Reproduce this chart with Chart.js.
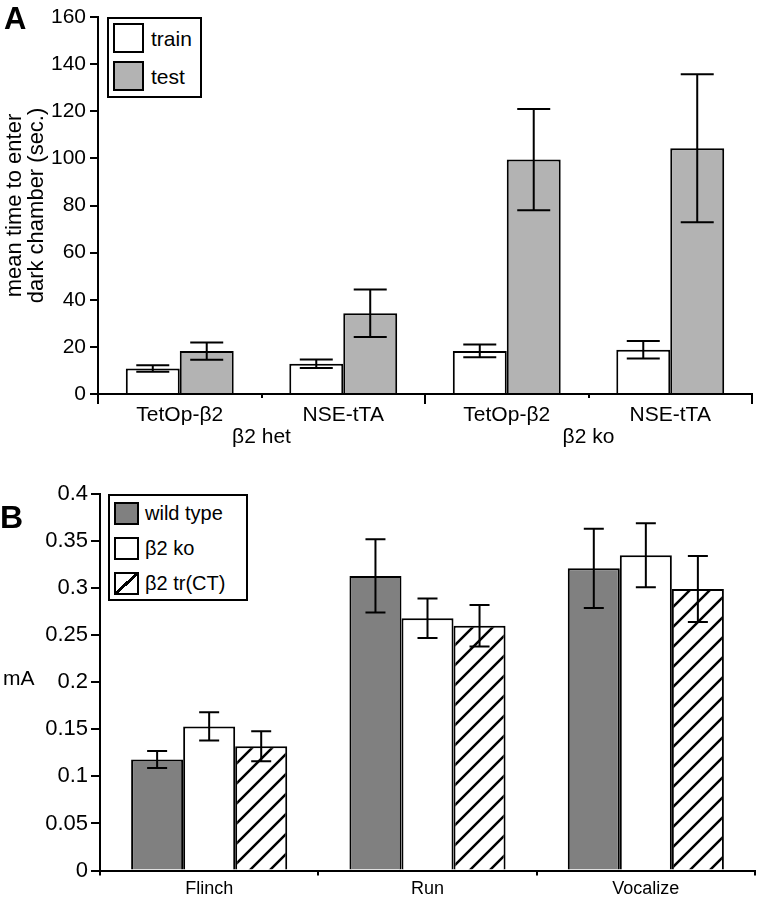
<!DOCTYPE html>
<html lang="en">

<head>
  <meta charset="UTF-8" />
  <title>Passive avoidance and shock sensitivity</title>
  <script src="https://cdn.jsdelivr.net/npm/chart.js"></script>
  <style>
    body {
      margin: 0;
      background: #fff;
      font-family: 'Liberation Sans', Arial, sans-serif;
      color: #000;
    }

    #wrap {
      position: relative;
      width: 757px;
      height: 900px;
    }

    .abs {
      position: absolute;
    }

    .letter {
      position: absolute;
      font-weight: bold;
      line-height: 1;
    }

    .legend-box {
      position: absolute;
      border: 2px solid #000;
      box-sizing: border-box;
      background: #fff;
    }

    .swatch {
      position: absolute;
      border: 2px solid #000;
      box-sizing: border-box;
    }

    .legend-text {
      position: absolute;
      white-space: nowrap;
      line-height: 1;
    }
  </style>
</head>

<body>
  <div id="wrap">
    <canvas id="chartA" class="abs" style="left:0;top:0" width="757" height="460"></canvas>
    <canvas id="chartB" class="abs" style="left:0;top:460px" width="757" height="440"></canvas>

    <div class="letter" style="left:4px;top:3px;font-size:31px">A</div>
    <div class="letter" style="left:0;top:501px;font-size:32px">B</div>
    <div class="legend-text" style="left:3px;top:667px;font-size:21px">mA</div>

    <!-- legend A -->
    <div class="legend-box" style="left:107px;top:17px;width:95px;height:81px"></div>
    <div class="swatch" style="left:113px;top:23px;width:31px;height:30px;background:#fff"></div>
    <div class="legend-text" style="left:151px;top:28px;font-size:21px">train</div>
    <div class="swatch" style="left:113px;top:61px;width:31px;height:30px;background:#b3b3b3"></div>
    <div class="legend-text" style="left:151px;top:66px;font-size:21px">test</div>

    <!-- legend B -->
    <div class="legend-box" style="left:108px;top:494px;width:140px;height:107px"></div>
    <div class="swatch" style="left:114px;top:502px;width:25px;height:23px;background:#808080"></div>
    <div class="legend-text" style="left:145px;top:503px;font-size:20px">wild type</div>
    <div class="swatch" style="left:114px;top:537px;width:25px;height:23px;background:#fff"></div>
    <div class="legend-text" style="left:145px;top:538px;font-size:20px">β2 ko</div>
    <div class="swatch"
      style="left:114px;top:572px;width:25px;height:23px;background:linear-gradient(to bottom right,#fff calc(50% - 1.5px),#000 calc(50% - 1.5px),#000 calc(50% + 1.5px),#fff calc(50% + 1.5px))">
    </div>
    <div class="legend-text" style="left:145px;top:573px;font-size:20px">β2 tr(CT)</div>
  </div>

  <script>
    // panel A: time to enter dark chamber
    const lineLabels = ['TetOp-β2', 'NSE-tTA', 'TetOp-β2', 'NSE-tTA'];
    const genotypeLabels = ['β2 het', 'β2 ko'];
    const trainMean = [10.8, 12.8, 18.3, 18.8];
    const trainErr = [1.4, 1.8, 2.7, 3.7];
    const testMean = [18.2, 34.3, 99.5, 104.3];
    const testErr = [3.7, 10.1, 21.5, 31.4];
    const ticksA = [0, 160, 20];

    // panel B: shock threshold
    const behaviours = ['Flinch', 'Run', 'Vocalize'];
    const wildMean = [0.118, 0.313, 0.321];
    const wildErr = [0.009, 0.039, 0.042];
    const koMean = [0.153, 0.268, 0.335];
    const koErr = [0.015, 0.021, 0.034];
    const trMean = [0.132, 0.260, 0.299];
    const trErr = [0.016, 0.022, 0.035];
    const ticksB = [0, 0.4, 0.05];

    Chart.defaults.font.family = "'Liberation Sans', Arial, sans-serif";
    Chart.defaults.color = '#000';

    const errorBars = {
      id: 'errorBars',
      afterDatasetsDraw(chart, args, opts) {
        const ctx = chart.ctx;
        const y = chart.scales.y;
        const half = opts.capWidth / 2;
        ctx.save();
        ctx.strokeStyle = '#000';
        ctx.lineWidth = 2;
        chart.data.datasets.forEach((ds, i) => {
          chart.getDatasetMeta(i).data.forEach((bar, j) => {
            const top = y.getPixelForValue(ds.data[j] + ds.errors[j]);
            const bot = y.getPixelForValue(ds.data[j] - ds.errors[j]);
            ctx.beginPath();
            ctx.moveTo(bar.x, top);
            ctx.lineTo(bar.x, bot);
            ctx.moveTo(bar.x - half, top);
            ctx.lineTo(bar.x + half, top);
            ctx.moveTo(bar.x - half, bot);
            ctx.lineTo(bar.x + half, bot);
            ctx.stroke();
          });
        });
        ctx.restore();
      }
    };

    function hatch() {
      const c = document.createElement('canvas');
      c.width = c.height = 20;
      const g = c.getContext('2d');
      g.fillStyle = '#fff';
      g.fillRect(0, 0, 20, 20);
      g.strokeStyle = '#000';
      g.lineWidth = 2.5;
      g.beginPath();
      g.moveTo(-2, 22); g.lineTo(22, -2);
      g.moveTo(-2, 2); g.lineTo(2, -2);
      g.moveTo(18, 22); g.lineTo(22, 18);
      g.stroke();
      return g.createPattern(c, 'repeat');
    }

    const axisLine = { color: '#000', width: 2 };

    new Chart(document.getElementById('chartA'), {
      type: 'bar',
      data: {
        labels: lineLabels,
        datasets: [
          { label: 'train', data: trainMean, errors: trainErr, backgroundColor: '#fff', borderColor: '#000', borderWidth: 2, categoryPercentage: 0.66, barPercentage: 1 },
          { label: 'test', data: testMean, errors: testErr, backgroundColor: '#b3b3b3', borderColor: '#000', borderWidth: 2, categoryPercentage: 0.66, barPercentage: 1 }
        ]
      },
      options: {
        responsive: false,
        animation: false,
        layout: { padding: { top: 17, right: 5, bottom: 0, left: 0 } },
        plugins: { legend: { display: false }, tooltip: { enabled: false }, errorBars: { capWidth: 33 } },
        scales: {
          x: {
            grid: { drawOnChartArea: false, offset: true, tickLength: 4, color: '#000', lineWidth: 2 },
            border: axisLine,
            ticks: { font: { size: 21 }, padding: 5, maxRotation: 0, autoSkip: false },
            afterFit: s => { s.height = 66; }
          },
          x2: {
            type: 'category',
            axis: 'x',
            labels: genotypeLabels,
            position: { y: 0 },
            offset: true,
            grid: { drawOnChartArea: false, offset: true, tickLength: 10, color: '#000', lineWidth: 2 },
            border: { display: false },
            ticks: { font: { size: 21 }, padding: 21, maxRotation: 0 }
          },
          y: {
            min: ticksA[0], max: ticksA[1],
            ticks: { stepSize: ticksA[2], font: { size: 21 }, padding: 4 },
            grid: { drawOnChartArea: false, tickLength: 8, color: '#000', lineWidth: 2 },
            border: axisLine,
            title: { display: true, text: ['mean time to enter', 'dark chamber (sec.)'], font: { size: 22, lineHeight: 1 }, padding: { top: 4, bottom: 0 } },
            afterFit: s => { s.width = 98; }
          }
        }
      },
      plugins: [errorBars]
    });

    const barStyle = { borderColor: '#000', borderWidth: 2, categoryPercentage: 0.715, barPercentage: 1 };

    new Chart(document.getElementById('chartB'), {
      type: 'bar',
      data: {
        labels: behaviours,
        datasets: [
          { label: 'wild type', data: wildMean, errors: wildErr, backgroundColor: '#808080', ...barStyle },
          { label: 'β2 ko', data: koMean, errors: koErr, backgroundColor: '#fff', ...barStyle },
          { label: 'β2 tr(CT)', data: trMean, errors: trErr, backgroundColor: hatch(), ...barStyle }
        ]
      },
      options: {
        responsive: false,
        animation: false,
        layout: { padding: { top: 34, right: 2, bottom: 0, left: 0 } },
        plugins: { legend: { display: false }, tooltip: { enabled: false }, errorBars: { capWidth: 20 } },
        scales: {
          x: {
            grid: { drawOnChartArea: false, offset: true, tickLength: 5, color: '#000', lineWidth: 2 },
            border: axisLine,
            ticks: { font: { size: 18 }, padding: 3, maxRotation: 0, autoSkip: false },
            afterFit: s => { s.height = 29.5; }
          },
          y: {
            min: ticksB[0], max: ticksB[1],
            ticks: { stepSize: ticksB[2], font: { size: 22 }, padding: 3, callback: v => String(+v.toFixed(2)) },
            grid: { drawOnChartArea: false, tickLength: 9, color: '#000', lineWidth: 2 },
            border: axisLine,
            afterFit: s => { s.width = 100; }
          }
        }
      },
      plugins: [errorBars]
    });
  </script>
</body>

</html>
